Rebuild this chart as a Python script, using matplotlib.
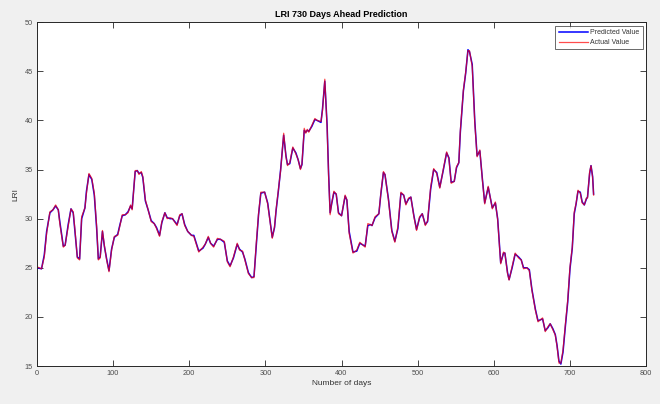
import matplotlib
matplotlib.use("Agg")
import matplotlib.pyplot as plt

plt.rcParams['font.family'] = ['Liberation Sans', 'DejaVu Sans']

# values (day, LRI)
days = [0, 6, 9.6, 12.7, 17, 21, 24.5, 28, 30, 34.6, 37, 41, 44.7, 47.6, 50, 53, 56,
        58.7, 63, 65, 68.3, 72, 75.3, 78.4, 80.6, 83, 86, 88.5, 91.5, 94.6, 98, 101.6,
        106, 109, 112, 116, 119.6, 123, 125, 129, 131.7, 134, 137, 139, 142.4, 146, 150,
        154, 157, 161, 164, 168, 171, 175, 178, 184, 187.5, 190.5, 194, 198, 203, 206,
        212.5, 218, 221, 225, 228, 232, 237, 241, 246, 250, 253.6, 258, 263, 266, 270,
        273, 277.7, 282, 285, 288, 291, 294, 299, 303, 307, 309, 312, 314, 317, 320, 324,
        327, 329, 332, 336, 340, 343, 346, 348, 351, 353, 355, 357, 361, 365, 368, 373,
        375, 378, 381, 383, 385, 387, 390, 393, 396, 400, 404.7, 407, 410, 415, 420, 424,
        431, 434.5, 438, 440, 444, 449, 451.6, 455, 457, 461.6, 466, 470, 474, 478, 481.6,
        484.5, 488, 491, 495, 498.5, 502.5, 506, 510, 513, 517, 521, 525, 529, 533, 538,
        541, 544, 548, 551, 554, 556, 560, 563, 566, 568, 571.6, 575, 578, 581.6, 585, 588,
        592.6, 598, 602, 605, 609, 612.7, 614.5, 618, 620, 624, 628, 632.5, 636, 639,
        643.5, 646.6, 650, 654.5, 658, 661, 664, 667.5, 671, 674, 677.5, 680.7, 683, 685.5,
        688, 690.8, 694, 697, 700, 703, 705.6, 708, 710.5, 713.5, 716, 718.8, 721.5, 723,
        725.8, 727.6, 729.7, 731]

actual = [25.1, 24.9, 26.1, 28.5, 30.7, 30.9, 31.4, 30.9, 29.5, 27.1, 27.3, 29.2, 31.0,
          30.7, 28.8, 26.0, 25.8, 30.2, 31.1, 32.6, 34.6, 34.1, 32.6, 29.2, 25.8, 26.0,
          28.8, 27.3, 25.8, 24.6, 26.8, 28.2, 28.3, 29.3, 30.4, 30.4, 30.6, 31.4, 30.9,
          34.9, 34.9, 34.5, 34.8, 34.3, 31.9, 30.9, 29.7, 29.5, 29.0, 28.2, 29.7, 30.6,
          30.0, 30.1, 30.0, 29.3, 30.4, 30.5, 29.3, 28.7, 28.3, 28.2, 26.6, 27.1, 27.4,
          28.2, 27.5, 27.1, 28.0, 27.9, 27.7, 25.6, 25.1, 26.1, 27.5, 26.8, 26.7, 25.8,
          24.4, 24.0, 24.0, 27.5, 30.5, 32.7, 32.7, 31.5, 29.2, 28.0, 29.2, 30.9, 32.9,
          34.9, 38.7, 36.3, 35.4, 35.7, 37.3, 36.6, 36.0, 35.0, 35.6, 39.2, 38.7, 39.1,
          38.8, 39.5, 40.2, 40.0, 39.9, 41.0, 44.2, 39.3, 34.3, 30.4, 31.6, 32.8, 32.5,
          30.5, 30.3, 32.4, 31.9, 28.5, 26.5, 26.8, 27.6, 27.1, 29.5, 29.4, 29.3, 30.2,
          30.5, 32.6, 34.8, 34.5, 31.9, 28.7, 27.6, 29.2, 32.7, 32.4, 31.4, 32.1, 32.2,
          30.2, 28.8, 30.2, 30.5, 29.3, 29.8, 33.2, 35.1, 34.6, 33.1, 34.8, 36.8, 36.1,
          33.6, 33.8, 35.3, 35.7, 39.0, 43.1, 44.9, 47.1, 47.1, 45.5, 39.7, 36.3, 37.0,
          33.9, 31.5, 33.3, 31.0, 31.7, 29.9, 25.4, 26.6, 26.5, 24.4, 23.75, 25.1, 26.5,
          26.0, 25.8, 24.9, 25.0, 24.7, 22.7, 20.7, 19.5, 19.7, 19.9, 18.5, 19.0, 19.3,
          18.7, 18.15, 17.0, 15.3, 15.3, 16.6, 19.3, 21.7, 25.1, 27.1, 30.7, 31.55, 32.9,
          32.6, 31.6, 31.4, 32.1, 32.1, 34.8, 35.4, 34.2, 32.4]

predicted = [25.0, 24.9, 26.3, 28.7, 30.6, 30.9, 31.3, 30.9, 29.7, 27.2, 27.3, 29.4, 31.0,
             30.6, 28.6, 26.1, 25.9, 30.0, 31.1, 32.8, 34.5, 34.0, 32.4, 29.0, 25.9, 26.1,
             28.7, 27.2, 25.9, 24.7, 26.9, 28.1, 28.4, 29.4, 30.3, 30.4, 30.7, 31.3, 31.0,
             34.8, 34.9, 34.6, 34.7, 34.2, 31.8, 30.9, 29.8, 29.5, 29.1, 28.3, 29.6, 30.6,
             30.1, 30.0, 30.0, 29.4, 30.3, 30.5, 29.4, 28.7, 28.3, 28.3, 26.7, 27.0, 27.4,
             28.1, 27.5, 27.2, 27.9, 27.9, 27.6, 25.7, 25.2, 26.0, 27.4, 26.9, 26.6, 25.9,
             24.5, 24.0, 24.1, 27.3, 30.4, 32.6, 32.7, 31.6, 29.3, 28.1, 29.1, 30.8, 32.8,
             35.0, 38.5, 36.4, 35.5, 35.6, 37.2, 36.7, 36.0, 35.1, 35.5, 39.0, 38.8, 39.0,
             38.9, 39.4, 40.1, 40.0, 39.8, 41.2, 44.0, 39.6, 34.6, 30.6, 31.5, 32.7, 32.5,
             30.6, 30.3, 32.3, 31.9, 28.7, 26.6, 26.7, 27.5, 27.2, 29.3, 29.4, 29.3, 30.1,
             30.5, 32.5, 34.7, 34.5, 32.0, 28.8, 27.7, 29.0, 32.6, 32.4, 31.5, 32.0, 32.2,
             30.3, 28.9, 30.1, 30.5, 29.4, 29.7, 33.0, 35.0, 34.7, 33.2, 34.7, 36.7, 36.2,
             33.7, 33.8, 35.2, 35.7, 38.8, 43.0, 44.8, 47.2, 47.0, 45.7, 39.9, 36.4, 36.9,
             34.0, 31.6, 33.2, 31.1, 31.6, 30.0, 25.5, 26.5, 26.5, 24.5, 23.8, 25.0, 26.4,
             26.1, 25.8, 25.0, 25.0, 24.8, 22.8, 20.8, 19.6, 19.7, 19.8, 18.6, 18.9, 19.3,
             18.8, 18.2, 17.1, 15.5, 15.2, 16.4, 19.1, 21.5, 24.9, 27.0, 30.5, 31.5, 32.8,
             32.7, 31.7, 31.4, 32.0, 32.2, 34.6, 35.4, 34.3, 32.5]

xticks = [0, 100, 200, 300, 400, 500, 600, 700, 800]
yticks = [15, 20, 25, 30, 35, 40, 45, 50]

fig = plt.figure(figsize=(6.6, 4.04), dpi=100, facecolor='#f0f0f0')
ax = fig.add_axes([0.056, 0.094, 0.923, 0.851])

ax.plot(days, predicted, color='#0000ff', linewidth=1.1, label='Predicted Value')
ax.plot(days, actual, color='#ff0000', linewidth=0.9, alpha=0.7, label='Actual Value')

ax.set_xlim(0, 800)
ax.set_ylim(15, 50)
ax.set_xticks(xticks)
ax.set_yticks(yticks)
ax.tick_params(direction='in', length=4, width=0.6, labelsize=5.3, color='#262626',
               labelcolor='#4d4d4d', top=True, right=True, pad=3)
for sp in ax.spines.values():
    sp.set_color('#262626')
    sp.set_linewidth(0.7)

ax.set_title('LRI 730 Days Ahead Prediction', fontsize=6.5, fontweight='bold', pad=4)
ax.set_xlabel('Number of days', fontsize=6, labelpad=2, color='#333333')
ax.set_ylabel('LRI', fontsize=6, labelpad=4, color='#333333')

leg = ax.legend(loc='upper right', fontsize=5, frameon=True, fancybox=False,
                handlelength=4.2, borderaxespad=0.5, borderpad=0.5, labelspacing=0.4,
                handletextpad=0.3)
leg.get_frame().set_edgecolor('#262626')
leg.get_frame().set_linewidth(0.6)
for t in leg.get_texts():
    t.set_color('#333333')

fig.savefig('out.png', dpi=100, facecolor=fig.get_facecolor())
